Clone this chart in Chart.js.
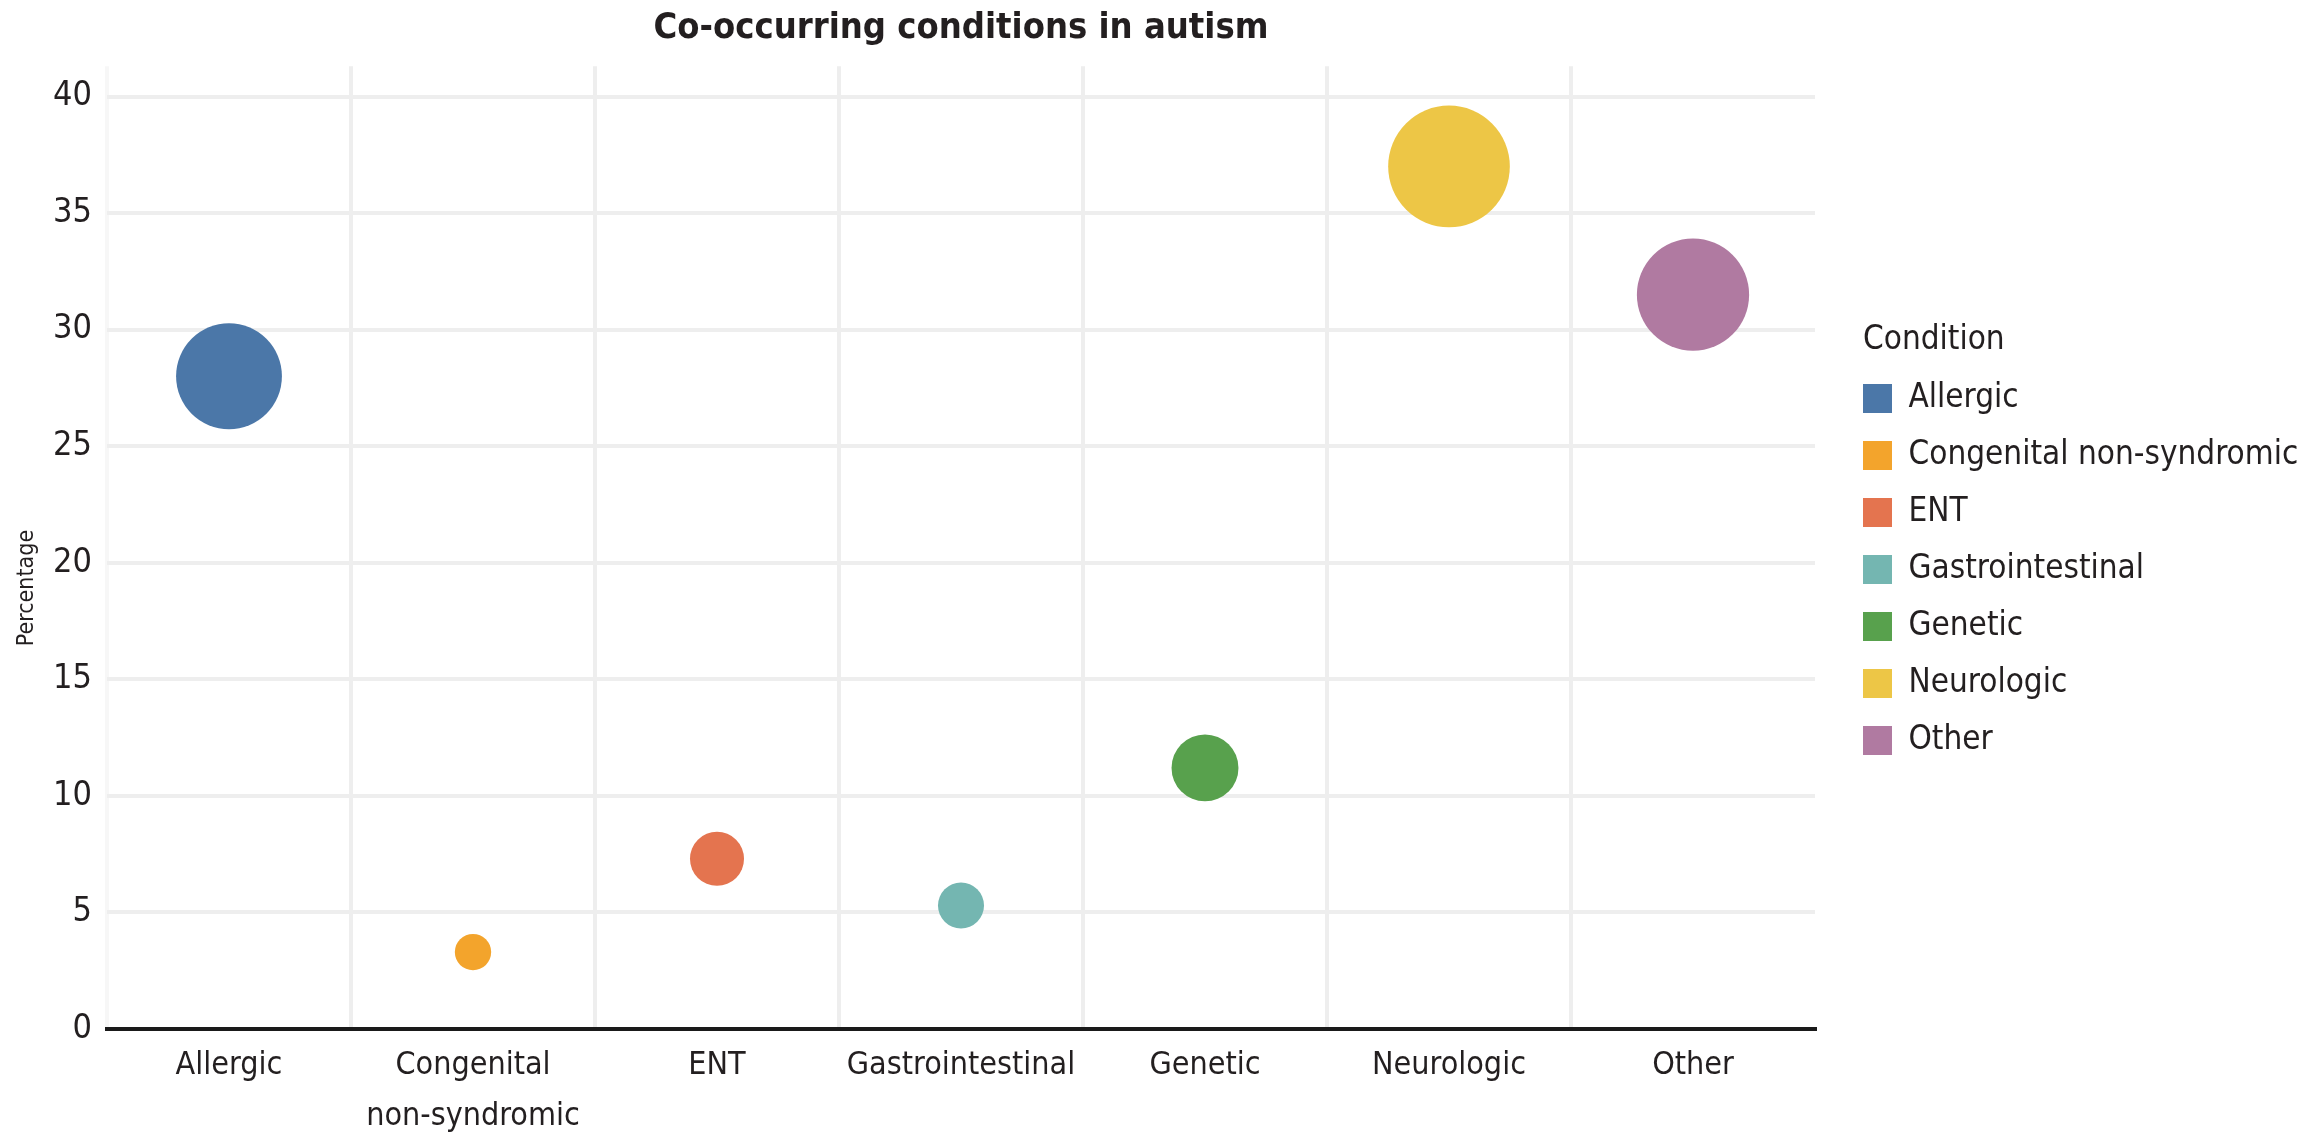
<!DOCTYPE html>
<html>
<head>
<meta charset="utf-8">
<title>Co-occurring conditions in autism</title>
<script src="https://cdn.jsdelivr.net/npm/chart.js@4.4.1/dist/chart.umd.min.js"></script>
<style>
  html, body { margin: 0; padding: 0; background: #fff; }
  #wrap { width: 2314px; height: 1138px; }
</style>
</head>
<body>
<div id="wrap"><canvas id="bubbleChart"></canvas></div>
<script>
// --- Data ---
const conditions = ['Allergic', 'Congenital non-syndromic', 'ENT', 'Gastrointestinal', 'Genetic', 'Neurologic', 'Other'];
const tickLabels = [['Allergic'], ['Congenital', 'non-syndromic'], ['ENT'], ['Gastrointestinal'], ['Genetic'], ['Neurologic'], ['Other']];
const percentages = [28.0, 3.3, 7.3, 5.3, 11.2, 37.0, 31.5];
const yTickValues = [0, 5, 10, 15, 20, 25, 30, 35, 40];
const colors = ['#4b77a8', '#f3a42c', '#e4744f', '#74b6b1', '#58a14d', '#edc646', '#b07aa1'];

const FONT = '"DejaVu Sans Condensed", "DejaVu Sans", sans-serif';
const TEXT = '#231f20';

Chart.defaults.font.family = FONT;
Chart.defaults.color = TEXT;

// bubble area proportional to the percentage
const sizeScale = v => 10 * Math.sqrt(v);

const datasets = conditions.map((name, i) => ({
    label: name,
    data: [{ x: name, y: percentages[i], r: sizeScale(percentages[i]) }],
    backgroundColor: colors[i],
    borderWidth: 0
}));

// legend sits right of the plot, heading lined up on the swatches; y title drawn by hand
const extraText = {
    id: 'extraText',
    afterLayout(chart) {
        const lg = chart.legend;
        if (!lg) return;
        const w = lg.width, h = lg.height;
        lg.left = 1839; lg.right = lg.left + w;
        lg.top = 358; lg.bottom = lg.top + h;
    },
    afterDraw(chart) {
        const ctx = chart.ctx;
        ctx.save();
        ctx.fillStyle = TEXT;
        ctx.textBaseline = 'middle';
        ctx.font = '33px ' + FONT;
        ctx.fillText('Condition', 1863, 340);

        ctx.translate(27, 588);
        ctx.rotate(-Math.PI / 2);
        ctx.textAlign = 'center';
        ctx.font = '23px ' + FONT;
        ctx.fillText('Percentage', 0, 0);
        ctx.restore();
    }
};

new Chart(document.getElementById('bubbleChart'), {
    type: 'bubble',
    data: { labels: conditions, datasets },
    plugins: [extraText],
    options: {
        responsive: true,
        maintainAspectRatio: false,
        animation: false,
        events: [],
        layout: { padding: { left: 0, right: 499, top: 0, bottom: 0 } },
        plugins: {
            title: {
                display: true,
                text: 'Co-occurring conditions in autism',
                fullSize: false,
                color: TEXT,
                font: { size: 36, weight: 'bold' },
                padding: { top: 7, bottom: 16 }
            },
            legend: {
                position: 'chartArea',
                align: 'start',
                labels: { boxWidth: 29, boxHeight: 29, padding: 24, color: TEXT, font: { size: 33 } }
            },
            tooltip: { enabled: false }
        },
        scales: {
            x: {
                type: 'category',
                offset: true,
                grid: {
                    offset: true,
                    drawTicks: false,
                    lineWidth: 4,
                    color: c => c.index === 0 ? '#f7f7f7' : (c.type === 'tick' ? '#eeeeee' : 'rgba(0,0,0,0)')
                },
                border: { display: true, color: '#1a1a1a', width: 4 },
                ticks: {
                    autoSkip: false, maxRotation: 0, padding: 11, color: TEXT,
                    font: { size: 32, lineHeight: 1.6 },
                    callback: (value, index) => tickLabels[index]
                },
                afterFit: s => { s.height = 109; }
            },
            y: {
                min: 0,
                max: 41.3,
                grid: { drawTicks: false, lineWidth: 4, color: '#eeeeee' },
                border: { display: false },
                ticks: { padding: 15, color: TEXT, font: { size: 34 } },
                afterBuildTicks: s => { s.ticks = yTickValues.map(v => ({ value: v })); },
                afterFit: s => { s.width = 107; }
            }
        }
    }
});
</script>
</body>
</html>
